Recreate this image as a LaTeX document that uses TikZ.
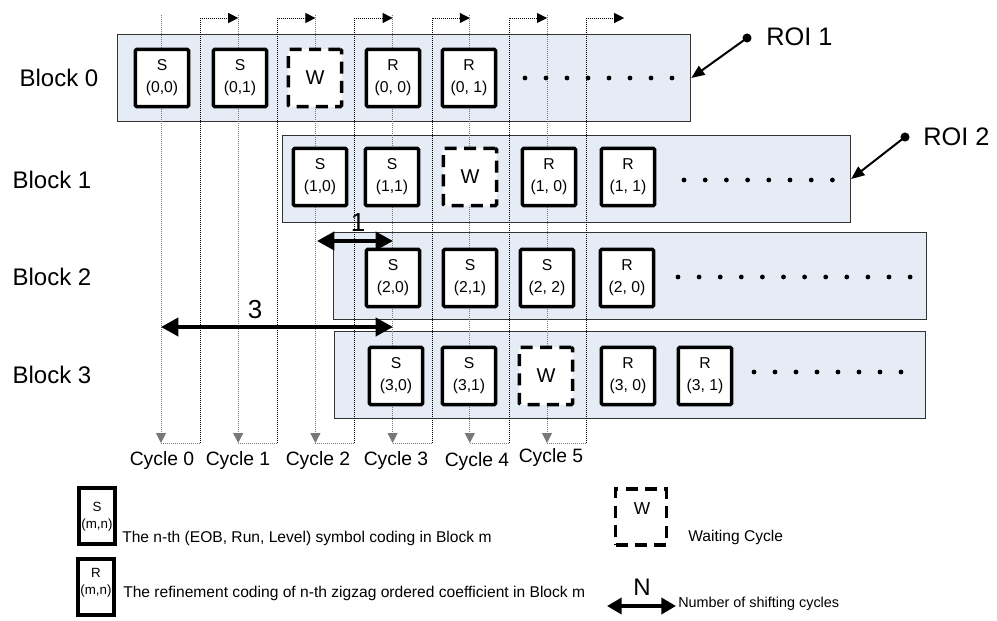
\documentclass[tikz,border=0pt]{standalone}
\usepackage{fontspec}
\setmainfont{Liberation Sans}
\usetikzlibrary{arrows.meta}
\definecolor{roifill}{RGB}{230,236,246}
\definecolor{gline}{RGB}{120,120,120}
\begin{document}
\begin{tikzpicture}[x=0.75pt,y=-0.75pt,
  roi/.style={draw=black!80, line width=0.9pt, fill=roifill, inner sep=0pt},
  cell/.style={draw=black, line width=2.6pt, fill=white, minimum width=40pt, minimum height=43pt,
    rounded corners=1pt, inner sep=0pt, align=center, font=\fontsize{11.8}{16.5}\selectfont},
  wcell/.style={cell, dash pattern=on 9pt off 5.5pt, font=\fontsize{15}{17}\selectfont},
  lcell/.style={draw=black, line width=2.6pt, fill=white, minimum width=27pt, minimum height=42pt, inner sep=0pt},
  lwcell/.style={lcell, minimum width=38pt, dash pattern=on 9pt off 5.5pt},
  gl/.style={draw=gline, line width=0.75pt, dash pattern=on 0.75pt off 0.75pt},
  bl/.style={draw=black, line width=0.75pt, dash pattern=on 0.75pt off 0.75pt},
  btip/.style={-{Triangle[length=7.5pt,width=7.5pt]}},
  bigarrow/.style={line width=3pt, {Triangle[length=13pt,width=13.5pt]}-{Triangle[length=13pt,width=13.5pt]}},
  roiarrow/.style={line width=1.5pt, -{Triangle[length=10pt,width=8pt]}},
  blocklbl/.style={font=\fontsize{18}{20}\selectfont, inner sep=0pt},
  cyclbl/.style={font=\fontsize{14.5}{16}\selectfont, inner sep=0pt},
  numlbl/.style={font=\fontsize{19.5}{22}\selectfont, inner sep=0pt},
  roilbl/.style={font=\fontsize{19}{22}\selectfont, inner sep=0pt, anchor=west},
  legtxt/.style={font=\fontsize{11.7}{13}\selectfont, inner sep=0pt, anchor=west},
  legin/.style={font=\fontsize{10}{12}\selectfont, inner sep=0pt},
  dot/.style={fill=black}
]
\useasboundingbox (0,0) rectangle (997,621);

% ROI rectangles
\node[roi, minimum width=430pt, minimum height=65.3pt] (r0) at (404,78) {};
\node[roi, minimum width=426pt, minimum height=65.3pt] (r1) at (566.5,179) {};
\node[roi, minimum width=444.8pt, minimum height=65.3pt] (r2) at (630,276) {};
\node[roi, minimum width=443.3pt, minimum height=65.3pt] (r3) at (630,375) {};

% cycle lines
\foreach \k in {0,...,5} {
  \pgfmathsetmacro\xc{161+77.2*\k}
  \pgfmathsetmacro\xd{\xc+39.5}
  \pgfmathsetmacro\xn{\xc+77.2}
  \coordinate (ct\k) at (\xc,15);
  \coordinate (cb\k) at (\xc,443);
  \coordinate (db\k) at (\xd,443);
  \coordinate (dt\k) at (\xd,18);
  \coordinate (na\k) at (\xn,18);
}
\foreach \k in {0,...,5} {
  \draw[gl, -{Triangle[length=7.5pt,width=7.5pt,fill=gline]}] (ct\k) -- (cb\k);
  \draw[gl] (cb\k) -- (db\k);
  \draw[bl, btip] (db\k) -- (dt\k) -- (na\k);
}

% Block 0
\node[cell] (s00) at (162,78) {S\\(0,0)};
\node[cell] (s01) at (240,78) {S\\(0,1)};
\node[wcell] (w0) at (315,78) {W};
\node[cell] (r00) at (393,78) {R\\(0, 0)};
\node[cell] (r01) at (469,78) {R\\(0, 1)};
% Block 1
\node[cell] (s10) at (320,177) {S\\(1,0)};
\node[cell] (s11) at (392,177) {S\\(1,1)};
\node[wcell] (w1) at (470,177) {W};
\node[cell] (r10) at (549,177) {R\\(1, 0)};
\node[cell] (r11) at (628,177) {R\\(1, 1)};
% Block 2
\node[cell] (s20) at (393,278) {S\\(2,0)};
\node[cell] (s21) at (470,278) {S\\(2,1)};
\node[cell] (s22) at (547,278) {S\\(2, 2)};
\node[cell] (r20) at (627,278) {R\\(2, 0)};
% Block 3
\node[cell] (s30) at (396,376) {S\\(3,0)};
\node[cell] (s31) at (469,376) {S\\(3,1)};
\node[wcell] (w3) at (546,376) {W};
\node[cell] (r30) at (628,376) {R\\(3, 0)};
\node[cell] (r31) at (705,376) {R\\(3, 1)};

% dots
\foreach \i in {0,...,7} \fill[dot] (525+21*\i,78) circle (1.8pt);
\foreach \i in {0,...,7} \fill[dot] (684+21.2*\i,180) circle (1.8pt);
\foreach \i in {0,...,11} \fill[dot] (678+21.1*\i,277) circle (1.8pt);
\foreach \i in {0,...,7} \fill[dot] (754+21*\i,372) circle (1.8pt);

% block labels
\node[blocklbl] (b0) at (59,78) {Block 0};
\node[blocklbl] (b1) at (52,180) {Block 1};
\node[blocklbl] (b2) at (52,277) {Block 2};
\node[blocklbl] (b3) at (52,375) {Block 3};

% cycle labels
\node[cyclbl] (c0) at (162,460) {Cycle 0};
\node[cyclbl] (c1) at (238,460) {Cycle 1};
\node[cyclbl] (c2) at (318,460) {Cycle 2};
\node[cyclbl] (c3) at (396,460) {Cycle 3};
\node[cyclbl] (c4) at (477,461) {Cycle 4};
\node[cyclbl] (c5) at (551,457) {Cycle 5};

% ROI pointers
\coordinate (roi1d) at (747,38);
\coordinate (roi2d) at (905,137);
\fill (roi1d) circle (3.4pt);
\fill (roi2d) circle (3.4pt);
\draw[roiarrow] (roi1d) -- (r0.east);
\draw[roiarrow] (roi2d) -- (r1.east);
\node[roilbl] (roi1) at (766,37) {ROI 1};
\node[roilbl] (roi2) at (923,137) {ROI 2};

% shift arrows
\coordinate (a1l) at (317,241);
\coordinate (a1r) at (393,241);
\coordinate (a3l) at (161,327);
\coordinate (a3r) at (393,327);
\node[numlbl] (n1) at (358,223) {1};
\draw[bigarrow] (a1l) -- (a1r);
\draw[bigarrow] (a3l) -- (a3r);
\node[numlbl] (n3) at (255,310) {3};

% legend
\node[lcell] (ls) at (97,516) {};
\node[legin] (lsS) at (97,507) {S};
\node[legin] (lsmn) at (97,525) {(m,n)};
\node[legtxt] (lst) at (122,538) {The n-th (EOB, Run, Level) symbol coding in Block m};
\node[lcell] (lr) at (96,587) {};
\node[legin] (lrR) at (96,573) {R};
\node[legin] (lrmn) at (96,591) {(m,n)};
\node[legtxt] (lrt) at (123,593) {The refinement coding of n-th zigzag ordered coefficient in Block m};
\node[lwcell] (lw) at (641,517) {};
\node[font=\fontsize{13}{15}\selectfont, inner sep=0pt] (lwW) at (642,509) {W};
\node[legtxt] (lwt) at (688,537) {Waiting Cycle};
\coordinate (lnl) at (607,606);
\coordinate (lnr) at (676,606);
\draw[line width=3pt, {Triangle[length=11pt,width=12pt]}-{Triangle[length=11pt,width=12pt]}] (lnl) -- (lnr);
\node[font=\fontsize{18}{20}\selectfont, inner sep=0pt] (lnN) at (642,587) {N};
\node[legtxt, font=\fontsize{10.8}{13}\selectfont] (lnt) at (678,604) {Number of shifting cycles};
\end{tikzpicture}
\end{document}
